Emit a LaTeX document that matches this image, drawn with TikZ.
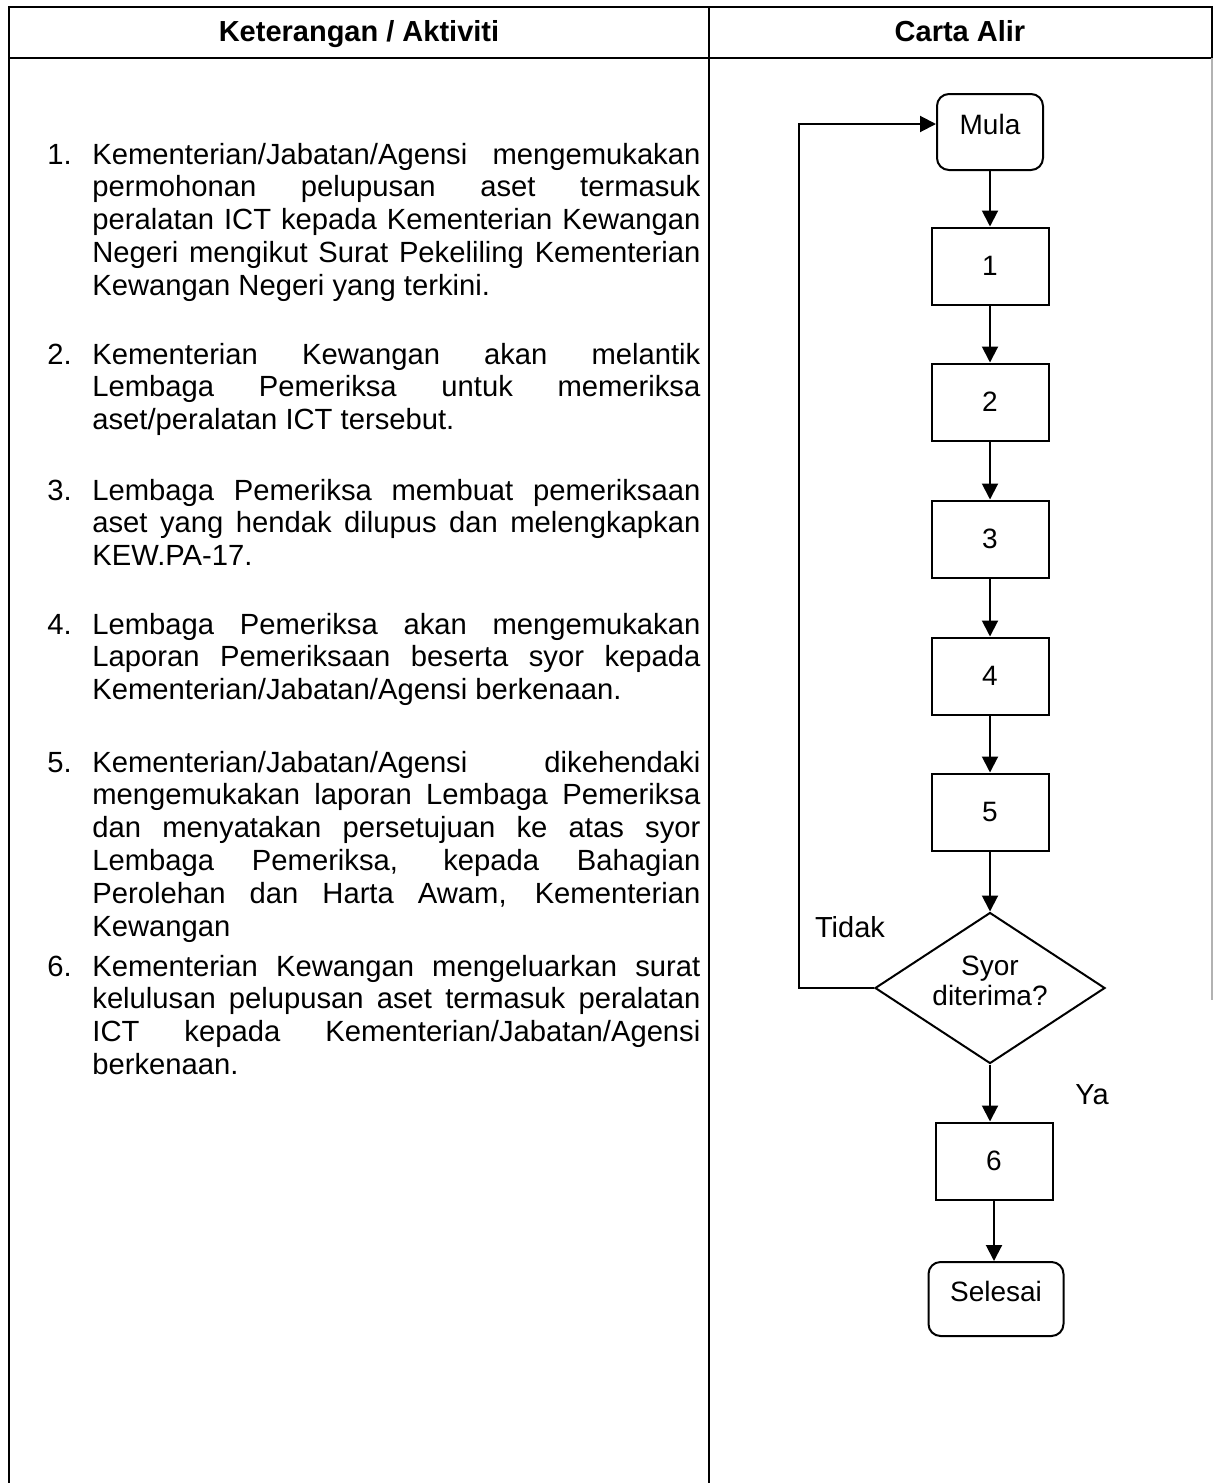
\documentclass[tikz,border=0pt]{standalone}
\usepackage{fontspec}
\setmainfont{Liberation Sans}
\usetikzlibrary{shapes.geometric,arrows.meta,positioning}

\newcommand{\itemtext}[2]{\begin{minipage}[t]{304pt}\fontsize{14.6}{16.4}\selectfont
  \tolerance=9999\hyphenpenalty=10000\noindent\llap{\makebox[22.5pt][l]{#1}}#2\end{minipage}}

\begin{document}
\begin{tikzpicture}[x=0.5pt,y=-0.5pt,
    every node/.style={font=\fontsize{14}{15}\selectfont},
    tbl/.style={line width=0.9pt},
    box/.style={draw, line width=1pt, minimum width=58.5pt, minimum height=38.5pt, inner sep=0pt},
    term/.style={box, rounded corners=6pt, text height=10pt, text depth=8pt},
    dec/.style={draw, line width=1pt, diamond, aspect=1.52, minimum width=115pt, minimum height=75.5pt, inner sep=0pt},
    flow/.style={line width=1pt, -{Triangle[length=8pt,width=8pt]}},
    desc/.style={anchor=base west, inner sep=0pt},
    head/.style={font=\fontsize{14.5}{16}\selectfont\bfseries, text height=11pt, text depth=3pt},
    side/.style={font=\fontsize{14.5}{16}\selectfont}]
    \useasboundingbox (0,0) rectangle (1217,1483);

    % table
    \draw[tbl] (9,1483) -- (9,7) -- (1212,7) -- (1212,58);
    \draw[tbl] (9,58) -- (1212,58);
    \draw[tbl] (709,7) -- (709,1483);
    \draw[gray!60, line width=0.6pt] (1212,58) -- (1212,1000);
    \node[head] (hket) at (359,33) {Keterangan / Aktiviti};
    \node[head] (hcarta) at (960,33) {Carta Alir};

    % keterangan
    \node[desc] (k1) at (92,164) {\itemtext{1.}{Kementerian/Jabatan/Agensi mengemukakan\linebreak permohonan pelupusan aset termasuk\linebreak peralatan ICT kepada Kementerian Kewangan\linebreak Negeri mengikut Surat Pekeliling Kementerian\linebreak Kewangan Negeri yang terkini.}};
    \node[desc] (k2) at (92,364) {\itemtext{2.}{Kementerian Kewangan akan melantik\linebreak Lembaga Pemeriksa untuk memeriksa\linebreak aset/peralatan ICT tersebut.}};
    \node[desc] (k3) at (92,500) {\itemtext{3.}{Lembaga Pemeriksa membuat pemeriksaan\linebreak aset yang hendak dilupus dan melengkapkan\linebreak KEW.PA-17.}};
    \node[desc] (k4) at (92,634) {\itemtext{4.}{Lembaga Pemeriksa akan mengemukakan\linebreak Laporan Pemeriksaan beserta syor kepada\linebreak Kementerian/Jabatan/Agensi berkenaan.}};
    \node[desc] (k5) at (92,772) {\itemtext{5.}{Kementerian/Jabatan/Agensi dikehendaki\linebreak mengemukakan laporan Lembaga Pemeriksa\linebreak dan menyatakan persetujuan ke atas syor\linebreak Lembaga Pemeriksa, kepada Bahagian\linebreak Perolehan dan Harta Awam, Kementerian\linebreak Kewangan}};
    \node[desc] (k6) at (92,976) {\itemtext{6.}{Kementerian Kewangan mengeluarkan surat\linebreak kelulusan pelupusan aset termasuk peralatan\linebreak ICT kepada Kementerian/Jabatan/Agensi\linebreak berkenaan.}};

    % carta alir
    \node[term, minimum width=53pt, minimum height=38pt] (mula) at (990,132) {Mula};
    \node[box] (s1) at (990,266) {1};
    \node[box] (s2) at (990,402) {2};
    \node[box] (s3) at (990,539) {3};
    \node[box] (s4) at (990,676) {4};
    \node[box] (s5) at (990,812) {5};
    \node[dec] (syor) at (990,988) {};
    \node[align=center, inner sep=0pt] (syortxt) at (990,981) {Syor\\diterima?};
    \node[box] (s6) at (994,1161) {6};
    \node[term, minimum width=67.5pt, minimum height=37pt] (selesai) at (996,1299) {Selesai};
    \node[side] (tidak) at (850,927) {Tidak};
    \node[side] (ya) at (1092,1095) {Ya};

    \draw[flow] (mula) -- (s1);
    \draw[flow] (s1) -- (s2);
    \draw[flow] (s2) -- (s3);
    \draw[flow] (s3) -- (s4);
    \draw[flow] (s4) -- (s5);
    \draw[flow] (s5) -- (syor);
    \draw[flow] (syor.south) -- (syor.south |- s6.north);
    \draw[flow] (s6.south) -- (s6.south |- selesai.north);
    \draw[flow] (syor.west) -- ++(-75,0) |- ([yshift=4pt]mula.west);
\end{tikzpicture}
\end{document}
